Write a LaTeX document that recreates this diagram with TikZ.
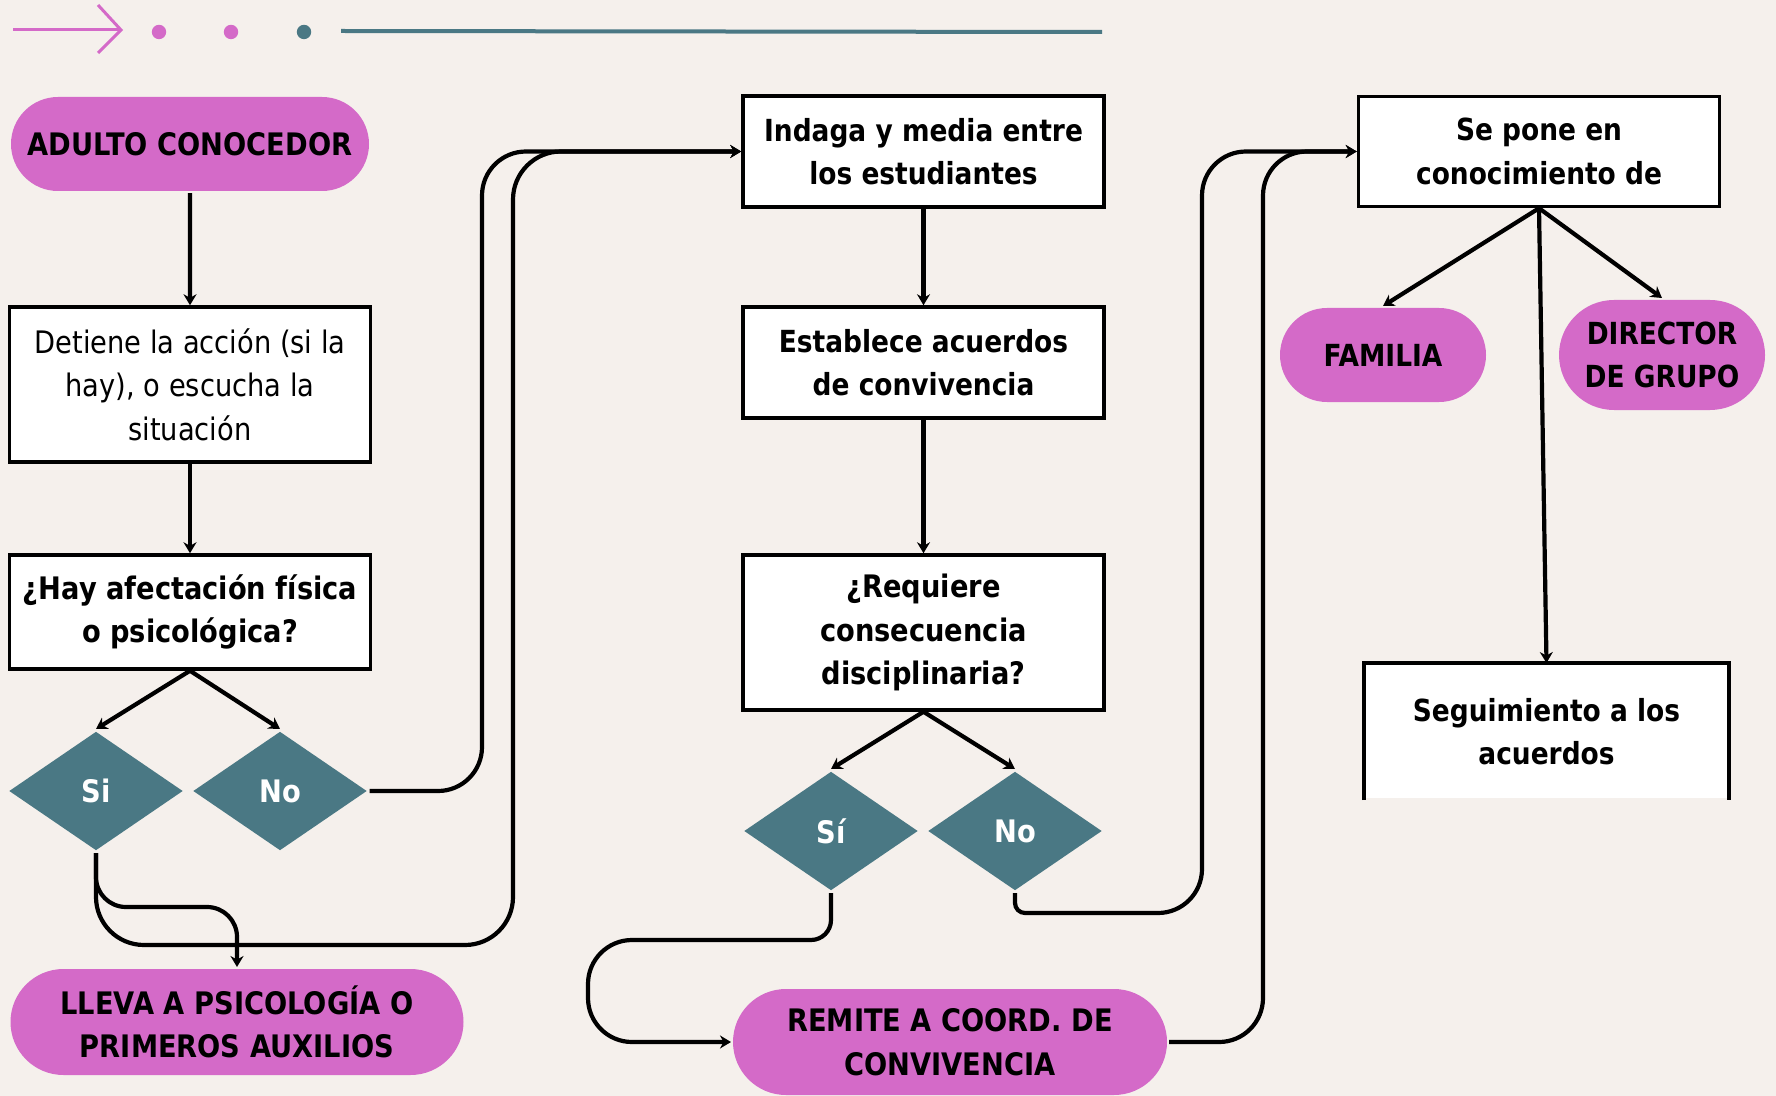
\documentclass[tikz,border=0pt]{standalone}
\usepackage{fontspec}
\setmainfont{DejaVu Sans}
\newfontfamily\narrowfont[FakeStretch=0.88]{DejaVu Sans}
\newfontfamily\widefont[FakeStretch=0.87]{DejaVu Sans}
\usetikzlibrary{shapes.geometric}
\usetikzlibrary{shapes.misc}
\usetikzlibrary{arrows.meta}

\definecolor{paper}{HTML}{F5F0EC}
\definecolor{orchid}{HTML}{D46AC8}
\definecolor{slate}{HTML}{4A7884}

\begin{document}
\begin{tikzpicture}[x=0.5pt,y=-0.5pt,line width=2pt,
    every node/.style={align=center,inner sep=0pt},
    widetext/.style={font=\widefont\bfseries\fontsize{15.2}{21.8}\selectfont},
    narrowtext/.style={font=\narrowfont\bfseries\fontsize{15.5}{21.8}\selectfont},
    boxnode/.style={draw,fill=white,line width=1.75pt,minimum width=180.5pt},
    pillnode/.style={rounded rectangle,fill=orchid},
    choice/.style={diamond,fill=slate,text=white,narrowtext,
      minimum width=87.5pt,minimum height=60pt},
    link/.style={-{Stealth[length=5.5pt,width=6.5pt]},line width=2.1pt}]

  % page and header line
  \useasboundingbox (0,0) rectangle (1776,1096);
  \fill[paper] (0,0) rectangle (1776,1096);
  \draw[orchid,line width=1.5pt] (13,30) -- (121,30);
  \draw[orchid,line width=1.5pt] (98,5) -- (121,30) -- (98,53);
  \foreach \x/\c in {159/orchid,231/orchid,304/slate}
    \fill[\c] (\x,32) circle (3.6pt);
  \draw[slate,line width=2pt] (341,31) -- (1102,32);

  % left column
  \node[pillnode,narrowtext,minimum width=179pt,minimum height=47pt]
    (adulto) at (190,144) {ADULTO CONOCEDOR};
  \node[boxnode,minimum height=77.5pt,
    font=\narrowfont\fontsize{15.5}{21.8}\selectfont]
    (detiene) at (190,384.5) {Detiene la acción (si la\\hay), o escucha la\\situación};
  \node[boxnode,narrowtext,minimum height=57pt]
    (hay) at (190,612) {¿Hay afectación física\\o psicológica?};
  \node[choice] (si1) at (96,791) {Si};
  \node[choice] (no1) at (280,791) {No};
  \node[pillnode,narrowtext,minimum width=226.5pt,minimum height=53pt]
    (lleva) at (237,1022) {LLEVA A PSICOLOGÍA O\\PRIMEROS AUXILIOS};

  % middle column
  \node[boxnode,widetext,minimum height=55.5pt]
    (indaga) at (923.5,151.5) {Indaga y media entre\\los estudiantes};
  \node[boxnode,widetext,minimum height=55.5pt]
    (establece) at (923.5,362.5) {Establece acuerdos\\de convivencia};
  \node[boxnode,narrowtext,minimum height=77.5pt]
    (requiere) at (923.5,632.5) {¿Requiere\\consecuencia\\disciplinaria?};
  \node[choice] (si2) at (831,831) {Sí};
  \node[choice] (no2) at (1015,831) {No};
  \node[pillnode,narrowtext,minimum width=217pt,minimum height=53pt]
    (remite) at (950,1042) {REMITE A COORD. DE\\CONVIVENCIA};

  % right column
  \node[boxnode,widetext,minimum height=55pt]
    (sepone) at (1539,151.5) {Se pone en\\conocimiento de};
  \node[pillnode,widetext,minimum width=103pt,minimum height=47pt]
    (familia) at (1383,355) {FAMILIA};
  \node[pillnode,widetext,minimum width=103pt,minimum height=55pt]
    (director) at (1662,355) {DIRECTOR\\DE GRUPO};
  \node[fill=white,widetext,minimum width=180.5pt,minimum height=66.5pt]
    (seguim) at (1546.5,731.5) {Seguimiento a los\\acuerdos};
  \draw[line width=1.75pt] (seguim.south west) -- (seguim.north west)
    -- (seguim.north east) -- (seguim.south east);

  % connectors, left
  \draw[link] (adulto) -- (detiene);
  \draw[link] (detiene) -- (hay);
  \draw[link] (hay.south) -- (si1.north);
  \draw[link] (hay.south) -- (no1.north);
  \draw[link,rounded corners=15pt] (si1.south) |- (237,907) -- (lleva.north);
  \draw[link,rounded corners=24pt] (si1.south) |- (513,945) |- (indaga.west);
  \draw[link,rounded corners=22pt] (no1.east) -- (482,791) |- (indaga.west);

  % connectors, middle
  \draw[link] (indaga) -- (establece);
  \draw[link] (establece) -- (requiere);
  \draw[link] (requiere.south) -- (si2.north);
  \draw[link] (requiere.south) -- (no2.north);
  \draw[link] (si2.south) [rounded corners=10pt] -- (831,940)
    [rounded corners=22pt] -- (588,940) -- (588,1042) -- (remite.west);
  \draw[link] (no2.south) [rounded corners=5pt] -- (1015,913)
    [rounded corners=22pt] -- (1202,913) |- (sepone.west);
  \draw[link,rounded corners=22pt] (remite.east) -- (1263,1042) |- (sepone.west);

  % connectors, right
  \draw[link] (sepone.south) -- (familia.north);
  \draw[link] (sepone.south) -- (director.north);
  \draw[link] (sepone.south) -- (seguim.north);

\end{tikzpicture}
\end{document}
